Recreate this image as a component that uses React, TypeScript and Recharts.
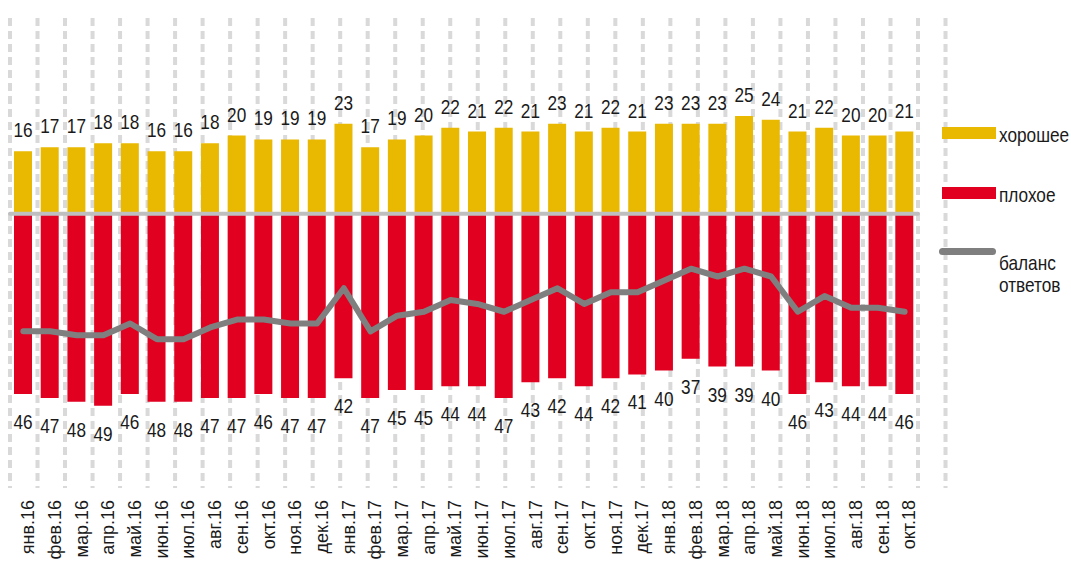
import {
  Bar,
  CartesianGrid,
  ComposedChart,
  LabelList,
  Legend,
  Line,
  ReferenceLine,
  XAxis,
  YAxis,
} from "recharts";

// Доля ответов «хорошее» / «плохое» и баланс ответов, янв.16 – окт.18.

const months = [
  "янв.16", "фев.16", "мар.16", "апр.16", "май.16", "июн.16", "июл.16", "авг.16", "сен.16", "окт.16", "ноя.16", "дек.16",
  "янв.17", "фев.17", "мар.17", "апр.17", "май.17", "июн.17", "июл.17", "авг.17", "сен.17", "окт.17", "ноя.17", "дек.17",
  "янв.18", "фев.18", "мар.18", "апр.18", "май.18", "июн.18", "июл.18", "авг.18", "сен.18", "окт.18",
];

const goodValues = [
  16, 17, 17, 18, 18, 16, 16, 18, 20, 19, 19, 19,
  23, 17, 19, 20, 22, 21, 22, 21, 23, 21, 22, 21,
  23, 23, 23, 25, 24, 21, 22, 20, 20, 21,
];

const badValues = [
  46, 47, 48, 49, 46, 48, 48, 47, 47, 46, 47, 47,
  42, 47, 45, 45, 44, 44, 47, 43, 42, 44, 42, 41,
  40, 37, 39, 39, 40, 46, 43, 44, 44, 46,
];

const balanceValues = [
  -30, -30, -31, -31, -28, -32, -32, -29, -27, -27, -28, -28,
  -19, -30, -26, -25, -22, -23, -25, -22, -19, -23, -20, -20,
  -17, -14, -16, -14, -16, -25, -21, -24, -24, -25,
];

// boundaries between months for the dashed vertical grid
const gridTicks = months.map((_, i) => i).concat(months.length);

const data = months.map((m, i) => ({
  month: m,
  good: goodValues[i],
  bad: -badValues[i],
  balance: balanceValues[i],
}));

const YELLOW = "#E9B800";
const RED = "#E10020";
const GREY = "#7F7F7F";
const SANS = '"Liberation Sans", Arial, sans-serif';
const SQUEEZE = 0.82; // no narrow font installed, so squeeze Liberation Sans

const NarrowText = ({ x, y, children }: { x: number; y: number; children: any }) => (
  <text
    transform={`translate(${x} ${y}) scale(${SQUEEZE} 1)`}
    textAnchor="middle"
    fontFamily={SANS}
    fontSize={21}
    fill="#1a1a1a"
  >
    {children}
  </text>
);

const GoodLabel = (props: any) => {
  const { x, y, width, height, value } = props;
  const top = Math.min(y, y + height);
  return <NarrowText x={x + width / 2} y={top - 14}>{value}</NarrowText>;
};

const BadLabel = (props: any) => {
  const { x, y, width, height, value } = props;
  const bottom = Math.max(y, y + height);
  return <NarrowText x={x + width / 2} y={bottom + 35}>{Math.abs(value)}</NarrowText>;
};

const MonthTick = (props: any) => {
  const { x, y, payload } = props;
  return (
    <text
      x={x}
      y={y}
      transform={`rotate(-90 ${x} ${y})`}
      textAnchor="end"
      dy="0.6em"
      fontFamily={SANS}
      fontSize={18}
      fill="#1a1a1a"
    >
      {payload.value}
    </text>
  );
};

const legendText = {
  position: "absolute" as const,
  left: 60,
  lineHeight: "22px",
  whiteSpace: "nowrap" as const,
  transform: `scaleX(${SQUEEZE})`,
  transformOrigin: "0 0",
};

const renderLegend = () => (
  <div style={{ position: "relative", width: 132, height: 180, fontFamily: SANS, fontSize: 21, color: "#1a1a1a" }}>
    <div style={{ position: "absolute", left: 3, top: 7, width: 54, height: 12, background: YELLOW }} />
    <div style={{ ...legendText, top: 4 }}>хорошее</div>
    <div style={{ position: "absolute", left: 3, top: 67, width: 54, height: 12, background: RED }} />
    <div style={{ ...legendText, top: 64 }}>плохое</div>
    <div style={{ position: "absolute", left: 0, top: 128, width: 57, height: 7, borderRadius: 4, background: GREY }} />
    <div style={{ ...legendText, top: 132 }}>
      баланс
      <br />
      ответов
    </div>
  </div>
);

export default function App() {
  return (
    <div style={{ position: "absolute", left: 0, top: 0, width: 1071, height: 561, background: "#fff" }}>
      <ComposedChart
        width={1071}
        height={561}
        data={data}
        stackOffset="sign"
        margin={{ top: 18, right: 153, bottom: 0, left: 10 }}
      >
        <XAxis xAxisId="grid" type="number" domain={[0, months.length]} ticks={gridTicks} hide />
        <CartesianGrid
          xAxisId="grid"
          horizontal={false}
          stroke="#D9D9D9"
          strokeWidth={4}
          strokeDasharray="8 5"
        />
        <XAxis
          dataKey="month"
          height={73}
          interval={0}
          axisLine={false}
          tickLine={false}
          tickMargin={6}
          tick={<MonthTick />}
        />
        <YAxis domain={[-70, 50]} hide allowDataOverflow />
        <Bar dataKey="good" stackId="s" barSize={18} fill={YELLOW} isAnimationActive={false}>
          <LabelList dataKey="good" content={<GoodLabel />} />
        </Bar>
        <Bar dataKey="bad" stackId="s" barSize={18} fill={RED} isAnimationActive={false}>
          <LabelList dataKey="bad" content={<BadLabel />} />
        </Bar>
        <ReferenceLine y={0} stroke="#BFBFBF" strokeWidth={4} strokeLinecap="round" />
        <Line
          dataKey="balance"
          type="linear"
          stroke={GREY}
          strokeWidth={6}
          strokeLinejoin="round"
          strokeLinecap="round"
          dot={false}
          activeDot={false}
          isAnimationActive={false}
        />
        <Legend
          layout="vertical"
          align="center"
          verticalAlign="middle"
          content={renderLegend}
          wrapperStyle={{ left: 939, top: 120, width: 132 }}
        />
      </ComposedChart>
    </div>
  );
}
